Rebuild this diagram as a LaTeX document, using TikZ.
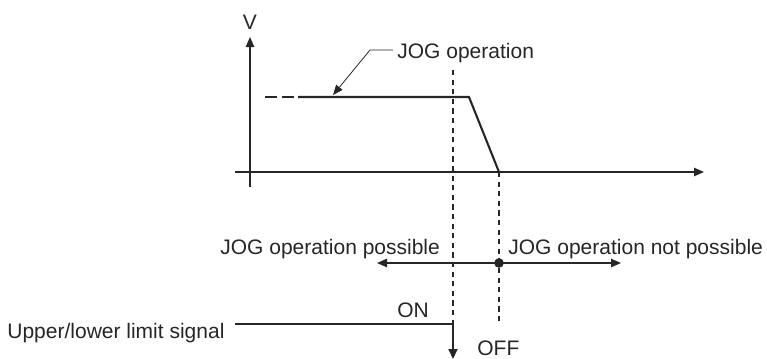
\documentclass[tikz,border=0pt]{standalone}
\usepackage{fontspec}
\setmainfont{Liberation Sans}
\usetikzlibrary{arrows.meta}
\begin{document}
\begin{tikzpicture}[x=0.5pt,y=-0.5pt,
  lbl/.style={inner sep=0pt,anchor=base west,font=\fontsize{10.5}{12}\selectfont,text=black!85},
  ax/.style={line width=0.65pt,draw=black!85},
  thick/.style={line width=1.05pt,draw=black!85},
  dsh/.style={line width=0.55pt,draw=black!85,dash pattern=on 2.6pt off 2.2pt},
  tip/.style={-{Triangle[length=5pt,width=4.2pt]}}]
\useasboundingbox (0,0) rectangle (767,359);
% axes
\coordinate (o) at (250,172);
\coordinate (ybot) at (250,187);
\coordinate (ytop) at (250,37);
\coordinate (xl) at (235,172);
\coordinate (xr) at (704,172);
\draw[ax,tip] (ybot) -- (ytop);
\draw[ax,tip] (xl) -- (xr);
\node[lbl,anchor=base] (V) at (250,29) {V};
% velocity profile
\coordinate (d0) at (265,97);
\coordinate (p0) at (298,97);
\coordinate (p1) at (469,97);
\coordinate (p2) at (499,172);
\draw[thick,dash pattern=on 6pt off 2.5pt] (d0) -- (p0);
\draw[thick,line join=miter] (p0) -- (p1) -- (p2);
% JOG operation label
\node[lbl] (jog) at (397,58) {JOG operation};
\coordinate (lk) at (370,50);
\coordinate (lt) at (333,95);
\draw[line width=0.4pt,draw=black!85,-{Triangle[length=5pt,width=4pt]}] (393,50) -- (lk) -- (lt);
% dashed verticals
\coordinate (v1t) at (453,70);
\coordinate (v1b) at (453,324);
\coordinate (v2b) at (499,325);
\draw[dsh] (v1t) -- (v1b);
\draw[dsh] (p2) -- (v2b);
% possible / not possible
\coordinate (dot) at (499,263);
\coordinate (al) at (377,263);
\coordinate (ar) at (621,263);
\draw[line width=0.6pt,draw=black!85,tip] (dot) -- (al);
\draw[line width=0.6pt,draw=black!85,tip] (dot) -- (ar);
\fill[black!85] (dot) circle (2.4pt);
\node[lbl] (pos) at (220,254) {JOG operation possible};
\node[lbl] (npos) at (508,254) {JOG operation not possible};
% limit signal
\node[lbl] (sig) at (7,338) {Upper/lower limit signal};
\coordinate (s0) at (235,324);
\coordinate (s1) at (453,324);
\coordinate (s2) at (453,359);
\draw[thick,line join=miter,-{Triangle[length=5pt,width=4.5pt]}] (s0) -- (s1) -- (s2);
\node[lbl] (on) at (397,317) {ON};
\node[lbl] (off) at (477,355) {OFF};
\end{tikzpicture}
\end{document}
